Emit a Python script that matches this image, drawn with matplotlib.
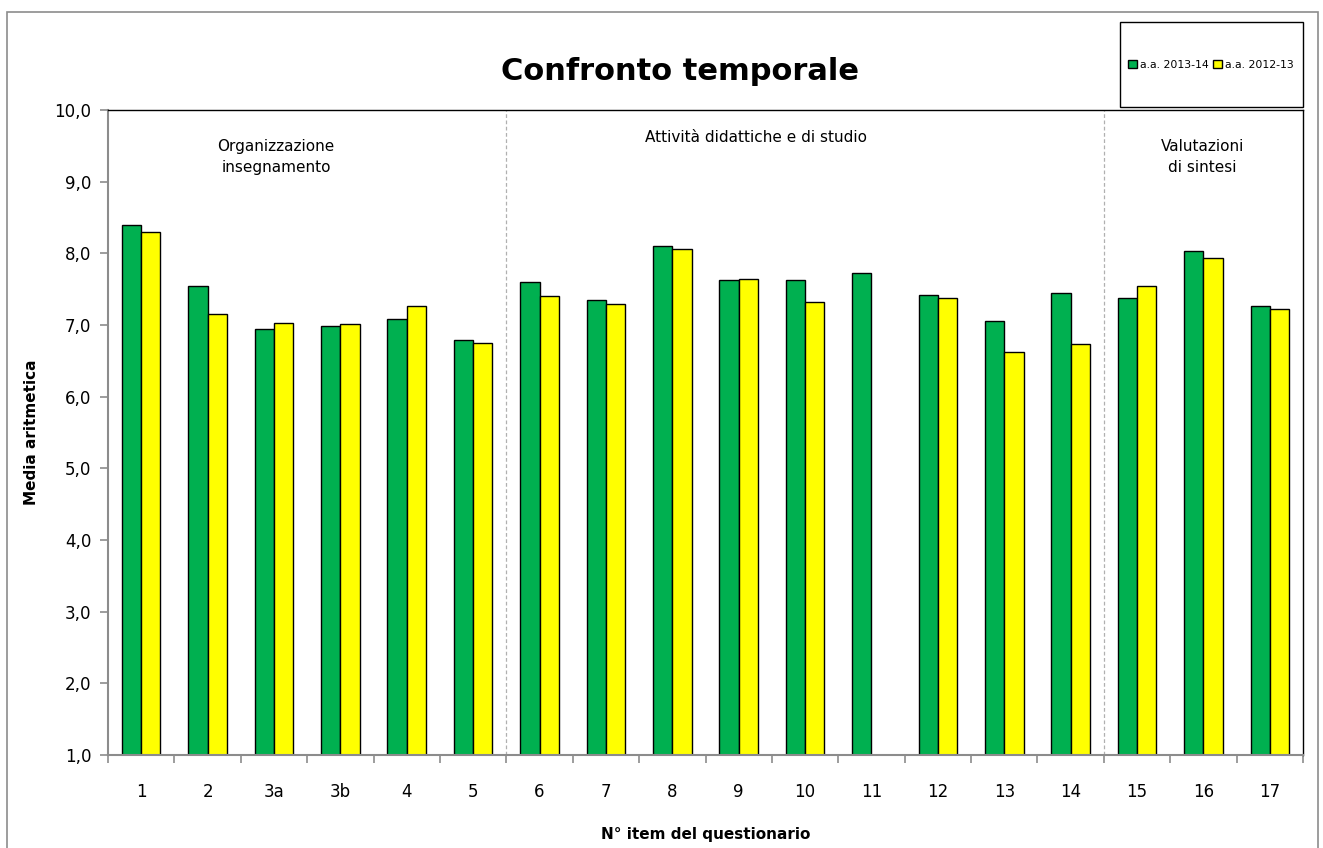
import matplotlib
matplotlib.use("Agg")
import matplotlib.pyplot as plt
import numpy as np
from matplotlib.patches import Rectangle
from matplotlib.ticker import FuncFormatter, FixedLocator

categories = ["1", "2", "3a", "3b", "4", "5", "6", "7", "8", "9", "10",
              "11", "12", "13", "14", "15", "16", "17"]
a2013_14 = [8.40, 7.54, 6.95, 6.99, 7.08, 6.79, 7.60, 7.35, 8.10, 7.63, 7.63,
            7.72, 7.42, 7.05, 7.44, 7.38, 8.03, 7.26]
a2012_13 = [8.30, 7.16, 7.03, 7.01, 7.26, 6.75, 7.40, 7.29, 8.06, 7.64, 7.32,
            np.nan, 7.37, 6.62, 6.74, 7.55, 7.93, 7.23]
series_names = ["a.a. 2013-14", "a.a. 2012-13"]
section_labels = ["Organizzazione\ninsegnamento", "Attività didattiche e di studio",
                  "Valutazioni\ndi sintesi"]

W, H = 1323, 848
fig = plt.figure(figsize=(W / 100, H / 100), dpi=100)
plt.rcParams['font.family'] = ['DejaVu Sans']

# figure border
fig.patches.append(Rectangle((7 / W, -0.01), (1318 - 7) / W, 1.01 - 12 / H,
                             transform=fig.transFigure, fill=False,
                             edgecolor="#8c8c8c", lw=1.2))

ax = fig.add_axes([108 / W, 1 - 755 / H, (1303 - 108) / W, (755 - 110) / H])
n = len(categories)
x = np.arange(n)
bw = 0.29
green, yellow = "#00B050", "#FFFF00"
ax.bar(x - bw / 2, a2013_14, bw, color=green, edgecolor="black", lw=1.0,
       label=series_names[0])
ax.bar(x + bw / 2, a2012_13, bw, color=yellow, edgecolor="black", lw=1.0,
       label=series_names[1])

ax.set_xlim(-0.5, n - 0.5)
ax.set_ylim(1.0, 10.0)
ax.set_yticks(np.arange(1, 10.01, 1.0))
ax.yaxis.set_major_formatter(FuncFormatter(lambda v, p: f"{v:.1f}".replace('.', ',')))

ax.xaxis.set_major_locator(FixedLocator(np.arange(-0.5, n, 1.0)))
ax.xaxis.set_major_formatter(FuncFormatter(lambda v, p: ""))
ax.set_xticks(x, minor=True)
ax.set_xticklabels(categories, minor=True)
ax.tick_params(axis='x', which='minor', length=0, pad=20, labelsize=12)
ax.tick_params(axis='x', which='major', length=6, color="#8c8c8c", width=1.2)
ax.tick_params(axis='y', length=6, color="#8c8c8c", width=1.2, labelsize=12, pad=6)

for s in ["left", "bottom"]:
    ax.spines[s].set_color("#8c8c8c")
    ax.spines[s].set_linewidth(1.5)
for s in ["top", "right"]:
    ax.spines[s].set_color("black")
    ax.spines[s].set_linewidth(1.0)

# section separators
for sx in [5.5, 14.5]:
    ax.axvline(sx, color="#b0b0b0", lw=0.9, ls=(0, (3, 2)))

ax.text(2.03, 9.6, section_labels[0], ha="center", va="top", fontsize=11,
        linespacing=1.5)
ax.text(9.26, 9.72, section_labels[1], ha="center", va="top", fontsize=11)
ax.text(15.98, 9.6, section_labels[2], ha="center", va="top", fontsize=11,
        linespacing=1.5)

ax.set_ylabel("Media aritmetica", fontsize=11, fontweight="bold")
ax.yaxis.set_label_coords(-0.058, 0.5)
ax.set_xlabel("N° item del questionario", fontsize=11, fontweight="bold")
ax.xaxis.set_label_coords(0.5, -0.112)

fig.text(680 / W, 1 - 72 / H, "Confronto temporale", ha="center", va="center",
         fontsize=22, fontweight="bold")

# legend box
fig.patches.append(Rectangle((1120 / W, 1 - 107 / H), (1303 - 1120) / W, (107 - 22) / H,
                             transform=fig.transFigure, fill=True, facecolor="white",
                             edgecolor="black", lw=1.0))
leg = fig.legend(loc="center", bbox_to_anchor=(1211 / W, 1 - 65 / H), ncol=2,
                 frameon=False, fontsize=7.8, handlelength=0.8, handleheight=0.8,
                 handletextpad=0.3, columnspacing=0.4, borderpad=0)

fig.savefig("out.png", dpi=100)
